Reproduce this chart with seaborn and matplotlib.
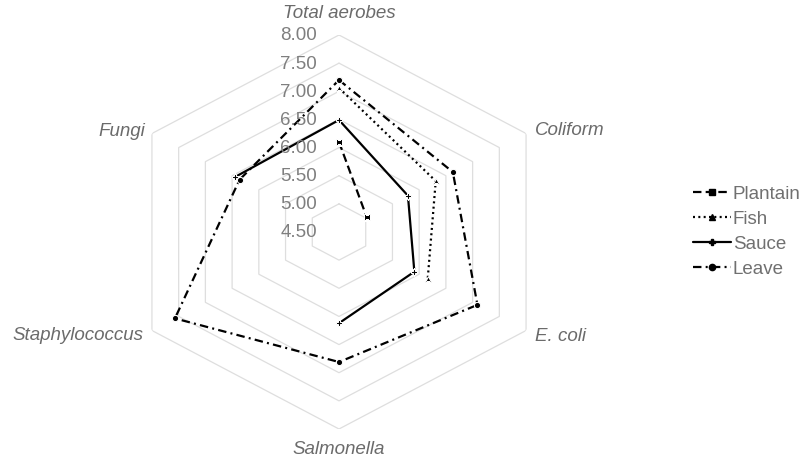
import numpy as np
import pandas as pd
import seaborn as sns
import matplotlib.pyplot as plt
from matplotlib.lines import Line2D

# values (blank = not plotted)
categories = ["Total aerobes", "Coliform", "E. coli", "Salmonella", "Staphylococcus", "Fungi"]
plantain = [6.10, 5.02, np.nan, np.nan, np.nan, np.nan]
fish = [7.06, 6.31, 6.16, np.nan, np.nan, np.nan]
sauce = [6.49, 5.79, 5.91, 6.12, np.nan, 6.45]
leave = [7.20, 6.63, 7.09, 6.81, 7.57, 6.36]
series_names = ["Plantain", "Fish", "Sauce", "Leave"]
tick_values = [4.50, 5.00, 5.50, 6.00, 6.50, 7.00, 7.50, 8.00]

n = len(categories)


def runs(values):
    # contiguous runs of non-missing points, walking round the circle
    vals = np.array(values, dtype=float)
    if not np.isnan(vals).any():
        return [list(range(n + 1))]
    start = int(np.where(np.isnan(vals))[0][0])
    out, cur = [], []
    for k in range(start + 1, start + 1 + n):
        if np.isnan(vals[k % n]):
            if cur:
                out.append(cur)
            cur = []
        else:
            cur.append(k)
    if cur:
        out.append(cur)
    return out


rows = []
for name, vals in zip(series_names, [plantain, fish, sauce, leave]):
    for j, run in enumerate(runs(vals)):
        for k in run:
            rows.append({"series": name, "unit": f"{name}{j}",
                         "theta": 2 * np.pi * k / n, "value": vals[k % n]})
df = pd.DataFrame(rows)

sns.set_style("white")
plt.rcParams["font.family"] = ["Liberation Sans", "DejaVu Sans"]

fig = plt.figure(figsize=(8.09, 4.60), dpi=100)
ax = fig.add_axes([123 / 809, 30 / 460, 432 / 809, 394 / 460], projection="polar")
ax.set_aspect("auto")
ax.set_theta_zero_location("N")
ax.set_theta_direction(-1)

# hexagonal gridlines
hex_theta = np.linspace(0, 2 * np.pi, n + 1)
for lvl in tick_values[1:]:
    ax.plot(hex_theta, [lvl] * (n + 1), color="#dedede", lw=0.9, zorder=1)

dashes = {"Plantain": (3.8, 1.9), "Fish": (0.9, 1.5), "Sauce": "", "Leave": (3.8, 1.9, 0.9, 1.9)}
markers = {"Plantain": "s", "Fish": "^", "Sauce": "P", "Leave": "o"}
sns.lineplot(data=df, x="theta", y="value", hue="series", style="series",
             units="unit", estimator=None, sort=False,
             palette={s: "black" for s in series_names},
             dashes=dashes, markers=markers, markersize=4.5, linewidth=1.6,
             legend=False, ax=ax, zorder=3)

ax.set_ylim(4.5, 8.0)
ax.grid(False)
ax.spines["polar"].set_visible(False)
ax.set_xticks([])
ax.set_yticks([])
ax.set_xlabel("")
ax.set_ylabel("")
ax.patch.set_alpha(0)

for v in tick_values:
    ax.annotate(f"{v:.2f}", xy=(0, v), xytext=(-22, 0), textcoords="offset pixels",
                ha="right", va="center", fontsize=13.5, color="#7f7f7f",
                annotation_clip=False, zorder=5)

label_pos = [((0, 22), "center"), ((9, 4), "left"), ((9, -5), "left"),
             ((0, -20), "center"), ((-8, -4), "right"), ((-7, 3), "right")]
for i, (cat, (off, ha)) in enumerate(zip(categories, label_pos)):
    ax.annotate(cat, xy=(2 * np.pi * i / n, 8.0), xytext=off, textcoords="offset pixels",
                ha=ha, va="center", fontsize=13.5, style="italic", color="#6b6b6b",
                annotation_clip=False)

handles = [Line2D([], [], color="black", lw=1.6, marker=markers[s], markersize=4.5,
                  dashes=dashes[s] if dashes[s] else (None, None)) for s in series_names]
fig.legend(handles, series_names, loc="center left", bbox_to_anchor=(693 / 809, 1 - 232 / 460),
           frameon=False, fontsize=13.5, handlelength=2.0, handletextpad=0.12,
           labelspacing=0.42, borderpad=0, borderaxespad=0, labelcolor="#707070")

fig.savefig("out.png", dpi=100)
